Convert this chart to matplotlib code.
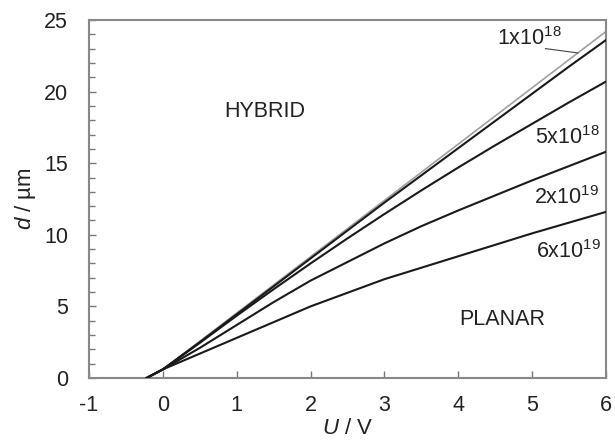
import matplotlib
matplotlib.use("Agg")
import matplotlib.pyplot as plt
from matplotlib.ticker import MultipleLocator

plt.rcParams['font.family'] = ['Liberation Sans', 'DejaVu Sans']
plt.rcParams['mathtext.fontset'] = 'custom'
plt.rcParams['mathtext.rm'] = 'Liberation Sans'
plt.rcParams['mathtext.it'] = 'Liberation Sans:italic'
plt.rcParams['mathtext.bf'] = 'Liberation Sans:bold'
plt.rcParams['axes.unicode_minus'] = False

# Data
U = [-0.22, 0, 0.5, 1, 1.5, 2, 2.5, 3, 3.5, 4, 4.5, 5, 5.5, 6]
U_limit = [-0.22, 0, 6]
d_limit = [0, 0.6, 24.2]
d_1e18 = [0, 0.6, 2.5, 4.45, 6.4, 8.35, 10.3, 12.25, 14.15, 16.05, 17.95, 19.85, 21.75, 23.6]
d_5e18 = [0, 0.6, 2.45, 4.35, 6.2, 8.0, 9.75, 11.45, 13.1, 14.7, 16.25, 17.75, 19.25, 20.7]
d_2e19 = [0, 0.6, 2.1, 3.7, 5.3, 6.8, 8.1, 9.4, 10.6, 11.7, 12.75, 13.8, 14.8, 15.8]
d_6e19 = [0, 0.6, 1.7, 2.8, 3.9, 5.0, 5.95, 6.9, 7.7, 8.5, 9.3, 10.1, 10.85, 11.6]
series = [d_1e18, d_5e18, d_2e19, d_6e19]

labels = ['1x10$^{18}$', '5x10$^{18}$', '2x10$^{19}$', '6x10$^{19}$']
label_pos = [(5.40, 23.7), (5.91, 16.8), (5.91, 12.6), (5.93, 8.8)]
pointer = [(5.18, 23.0), (5.62, 22.7)]

fig = plt.figure(figsize=(6.15, 4.47), dpi=100)
ax = fig.add_axes([0.1447, 0.1544, 0.8407, 0.8009])

ax.plot(U_limit, d_limit, color='#a0a0a0', lw=1.2, zorder=2)
for s in series:
    ax.plot(U, s, color='#1a1a1a', lw=1.5, zorder=3)

ax.plot([pointer[0][0], pointer[1][0]], [pointer[0][1], pointer[1][1]],
        color='#444444', lw=0.8)

for lab, (x, y) in zip(labels, label_pos):
    ax.text(x, y, lab, ha='right', va='center', fontsize=15.5, color='#222222')

ax.text(1.38, 18.6, 'HYBRID', ha='center', va='center', fontsize=15.5, color='#222222')
ax.text(4.59, 4.05, 'PLANAR', ha='center', va='center', fontsize=15.5, color='#222222')

ax.set_xlim(-1, 6)
ax.set_ylim(0, 25)
ax.xaxis.set_major_locator(MultipleLocator(1))
ax.yaxis.set_major_locator(MultipleLocator(5))
ax.yaxis.set_minor_locator(MultipleLocator(1))
ax.tick_params(which='both', direction='in', color='#777777', labelsize=15.5,
               labelcolor='#222222')
ax.tick_params(which='major', length=5, width=1)
ax.tick_params(which='minor', length=4, width=1)
ax.tick_params(axis='x', pad=12)
ax.tick_params(axis='y', pad=15)
for sp in ax.spines.values():
    sp.set_color('#888888')
    sp.set_linewidth(1.5)

ax.set_xlabel('$U$ / V', fontsize=16, color='#222222', labelpad=2)
ax.set_ylabel('$d$ / µm', fontsize=16, color='#222222', labelpad=4)

fig.savefig('out.png', dpi=100)
